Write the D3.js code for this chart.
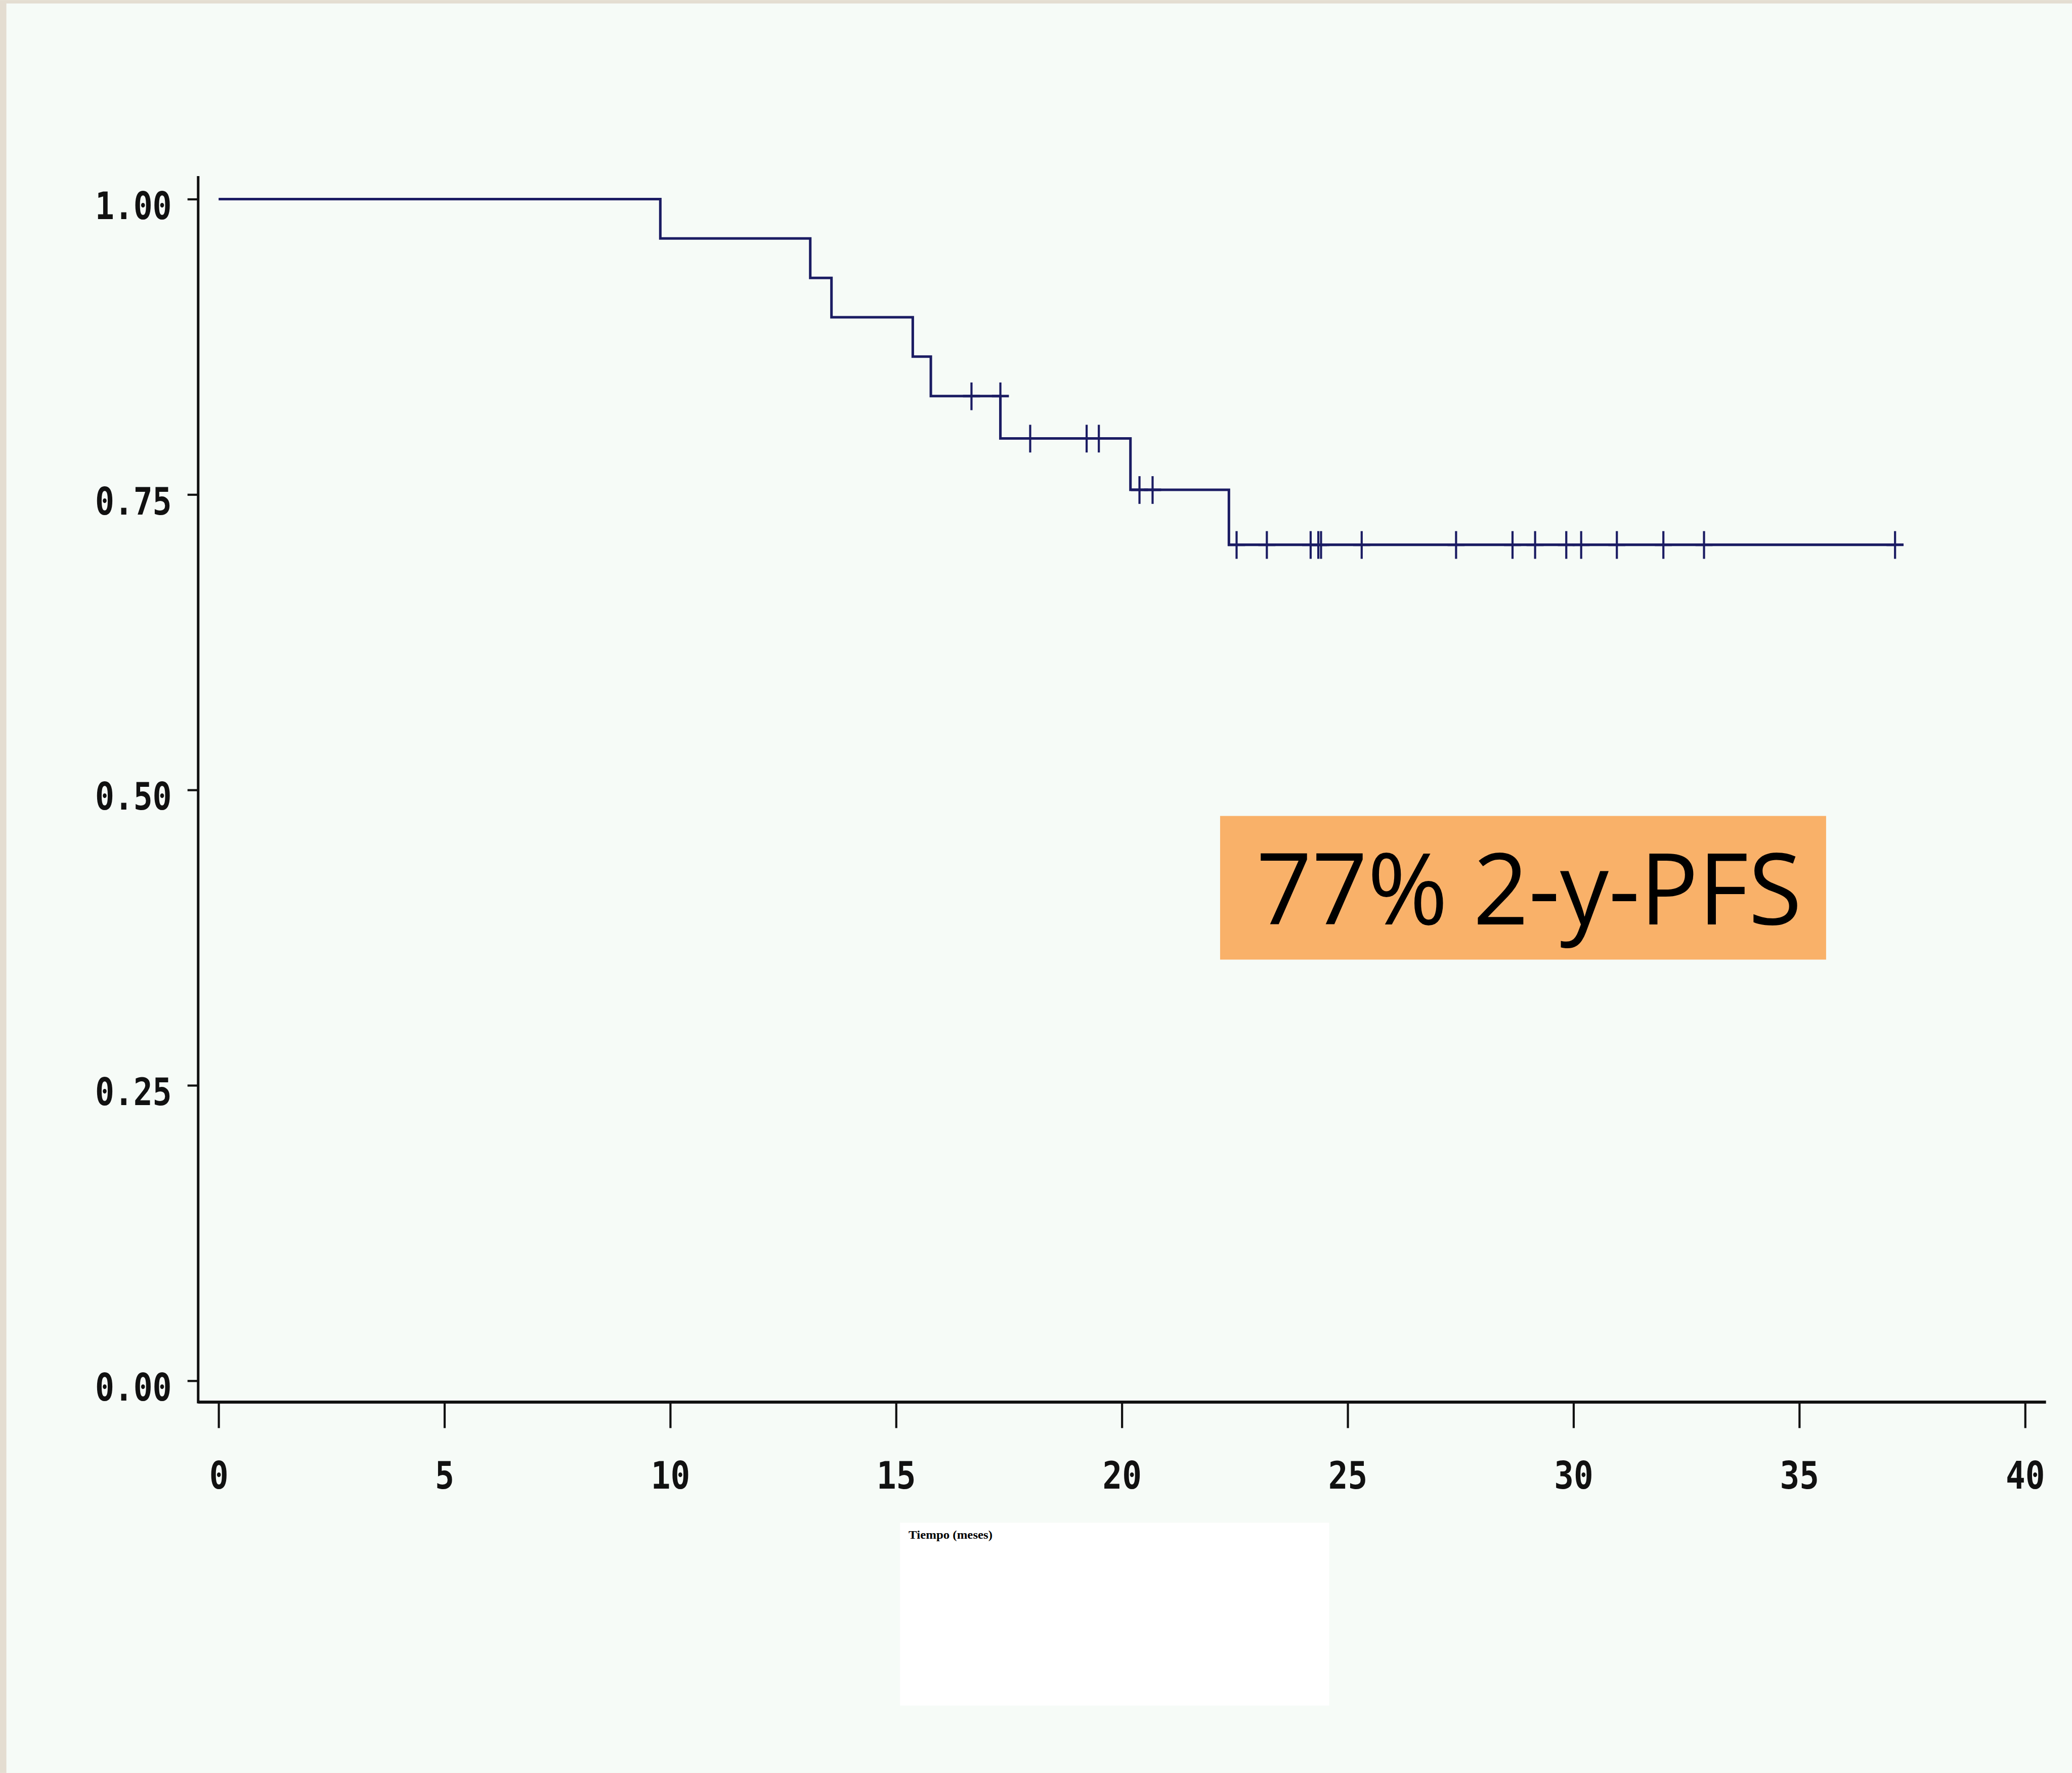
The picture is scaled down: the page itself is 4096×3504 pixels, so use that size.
<!DOCTYPE html>
<html>
<head>
<meta charset="utf-8">
<script src="https://cdn.jsdelivr.net/npm/d3@7"></script>
<style>
  html, body { margin: 0; padding: 0; background: #f6fbf7; overflow: hidden; }
  svg { display: block; }
</style>
</head>
<body>
<script>
// ---- data ----
const eventTimes   = [9.78, 13.10, 13.57, 15.37, 15.77, 17.31, 20.19, 22.37];
const survival     = [1.0, 0.9667, 0.9333, 0.9, 0.8667, 0.8333, 0.7975, 0.7540, 0.7075];
const censorTimes  = [16.67, 17.31, 17.97, 19.22, 19.49, 20.39, 20.68, 22.54, 23.21,
                      24.18, 24.35, 24.41, 25.31, 27.40, 28.65, 29.15, 29.84, 30.17,
                      30.96, 31.99, 32.89, 37.12];
const xTicks = [0, 5, 10, 15, 20, 25, 30, 35, 40];
const yTicks = [0, 0.25, 0.5, 0.75, 1.0];
const yTickLabels = ["0.00", "0.25", "0.50", "0.75", "1.00"];
const annotationText = "77% 2-y-PFS";
const xAxisTitle = "Tiempo (meses)";

// ---- layout in reference pixel units (scaled by viewBox to 0.842) ----
const W = 4862, H = 4159;
const svg = d3.select("body").append("svg")
  .attr("width", 4096).attr("height", 3504)
  .attr("viewBox", `0 0 ${W} ${H}`);

svg.append("rect").attr("width", W).attr("height", H).attr("fill", "#e4ddd1");
svg.append("rect").attr("x", 15).attr("y", 8).attr("width", W - 15).attr("height", H - 8).attr("fill", "#f6fbf7");

const x = d3.scaleLinear().domain([0, 40]).range([513, 4752]);
const y = d3.scaleLinear().domain([0, 1]).range([3239, 467]);
const axisX0 = 465, axisY0 = 3289;

const ink = "#111";
const curveColor = "#1b1c63";

// Y axis
const yAxis = d3.axisLeft(y).tickValues(yTicks).tickSize(25).tickPadding(0)
  .tickFormat((d, i) => yTickLabels[i]);
const gy = svg.append("g").attr("transform", `translate(${axisX0},0)`).call(yAxis);
gy.select(".domain").remove();
gy.selectAll(".tick line").attr("stroke", ink).attr("stroke-width", 5);
gy.selectAll(".tick text")
  .attr("x", -62).attr("dy", null).attr("y", 46)
  .attr("text-anchor", "end")
  .attr("font-family", "'DejaVu Sans Mono', monospace")
  .attr("font-weight", "bold").attr("font-size", 89).attr("fill", ink)
  .attr("textLength", d => 45 * yTickLabels[yTicks.indexOf(d)].length)
  .attr("lengthAdjust", "spacingAndGlyphs");
svg.append("line").attr("x1", axisX0).attr("x2", axisX0).attr("y1", 413).attr("y2", axisY0 + 3)
  .attr("stroke", ink).attr("stroke-width", 6);

// X axis
const xAxis = d3.axisBottom(x).tickValues(xTicks).tickSize(61).tickPadding(0)
  .tickFormat(d3.format("d"));
const gx = svg.append("g").attr("transform", `translate(0,${axisY0})`).call(xAxis);
gx.select(".domain").remove();
gx.selectAll(".tick line").attr("stroke", ink).attr("stroke-width", 5);
gx.selectAll(".tick text")
  .attr("y", 203).attr("dy", null)
  .attr("text-anchor", "middle")
  .attr("font-family", "'DejaVu Sans Mono', monospace")
  .attr("font-weight", "bold").attr("font-size", 89).attr("fill", ink)
  .attr("textLength", d => 47 * String(d).length - 2)
  .attr("lengthAdjust", "spacingAndGlyphs");
svg.append("line").attr("x1", axisX0).attr("x2", 4801).attr("y1", axisY0).attr("y2", axisY0)
  .attr("stroke", ink).attr("stroke-width", 7);

// Kaplan-Meier step curve
const lastTime = d3.max(censorTimes);
const pts = [[0, survival[0]]];
eventTimes.forEach((t, i) => pts.push([t, survival[i + 1]]));
pts.push([lastTime, survival[survival.length - 1]]);
const line = d3.line().x(d => x(d[0])).y(d => y(d[1])).curve(d3.curveStepAfter);
svg.append("path").datum(pts).attr("d", line)
  .attr("fill", "none").attr("stroke", curveColor).attr("stroke-width", 6);

// censor marks (+)
function levelAt(t) {
  let s = survival[0];
  eventTimes.forEach((e, i) => { if (e < t) s = survival[i + 1]; });
  return s;
}
const cg = svg.append("g").attr("stroke", curveColor).attr("stroke-width", 5);
censorTimes.forEach(t => {
  const cx = x(t), cy = y(levelAt(t));
  cg.append("line").attr("x1", cx).attr("x2", cx).attr("y1", cy - 32).attr("y2", cy + 33);
  cg.append("line").attr("x1", cx - 20).attr("x2", cx + 20).attr("y1", cy).attr("y2", cy).attr("stroke-width", 6);
});

// Annotation box
svg.append("rect").attr("x", 2863).attr("y", 1914).attr("width", 1422).attr("height", 337)
  .attr("fill", "#f9b169");
svg.append("text").attr("x", 2948).attr("y", 2168)
  .attr("font-family", "'Open Sans', 'Noto Sans', sans-serif").attr("font-size", 232)
  .attr("fill", "#000")
  .attr("textLength", 1280).attr("lengthAdjust", "spacingAndGlyphs")
  .text(annotationText);

// White box with axis title
svg.append("rect").attr("x", 2112).attr("y", 3572).attr("width", 1007).attr("height", 429)
  .attr("fill", "#ffffff");
svg.append("text").attr("x", 2132).attr("y", 3609)
  .attr("font-family", "'Liberation Serif', serif").attr("font-weight", "bold")
  .attr("font-size", 28).attr("fill", "#000")
  .attr("textLength", 197).attr("lengthAdjust", "spacingAndGlyphs")
  .text(xAxisTitle);
</script>
</body>
</html>
